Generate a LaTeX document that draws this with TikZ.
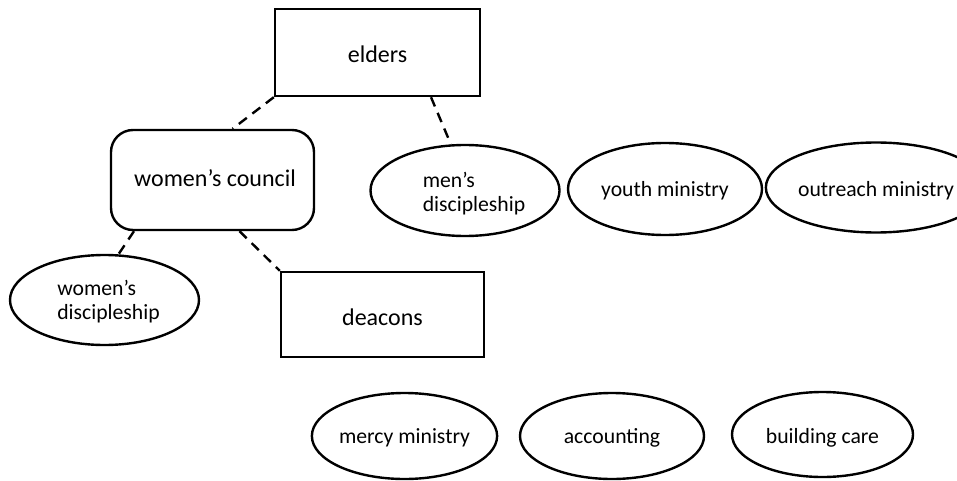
\documentclass[tikz,border=0pt]{standalone}
\usepackage{fontspec}
\setmainfont{Carlito}
\usetikzlibrary{shapes.geometric,calc}
\newcommand{\bline}[2]{\raisebox{-#1pt}[0pt][0pt]{#2}}
\newcommand{\twoline}[3]{\raisebox{#1pt}[0pt][0pt]{\begin{tabular}[t]{@{}l@{}}#2\\#3\end{tabular}}}
\begin{document}
\begin{tikzpicture}[x=1pt,y=-1pt,
  every node/.style={inner sep=0pt},
  box/.style={draw, line width=2.4pt, rectangle, font=\fontsize{24}{28}\selectfont},
  rbox/.style={draw, line width=2.4pt, rectangle, rounded corners=22pt, font=\fontsize{24}{28}\selectfont},
  oval/.style={draw, line width=2.4pt, ellipse, font=\fontsize{21.7}{24}\selectfont},
  link/.style={line width=2.4pt, dash pattern=on 10pt off 7pt}]
\useasboundingbox (0,0) rectangle (957,481);
\clip (0,0) rectangle (957,481);
\fill[white] (0,0) rectangle (957,481);

\node[box, minimum width=205pt, minimum height=87pt] (elders) at (377.5,52.5) {\bline{10.5}{elders}};
\node[rbox, minimum width=203pt, minimum height=100pt] (wc) at (212.5,180) {\hspace*{5pt}\bline{6}{women’s council}};
\node[oval, minimum width=189pt, minimum height=91pt] (men) at (465,190.5)
  {\hspace*{18pt}\twoline{3.5}{men’s}{discipleship}};
\node[oval, minimum width=194pt, minimum height=92pt] (youth) at (665,189) {\bline{8}{youth ministry}};
\node[oval, minimum width=192pt, minimum height=90pt] (outreach) at (876,187.5) {\bline{9}{outreach ministry}};
\node[oval, minimum width=189pt, minimum height=90pt] (wd) at (104.5,300)
  {\hspace*{8pt}\twoline{5}{women’s}{discipleship}};
\node[box, minimum width=203pt, minimum height=85pt] (deacons) at (382.5,314.5) {\bline{10.5}{deacons}};
\node[oval, minimum width=179pt, minimum height=86pt] (mercy) at (404.5,436) {\bline{7}{mercy ministry}};
\node[oval, minimum width=184pt, minimum height=86pt] (accounting) at (612,436) {\bline{7}{accounting}};
\node[oval, minimum width=181pt, minimum height=85pt] (building) at (822.5,434.5) {\bline{8.5}{building care}};

\draw[link] (elders.south west) -- ($(wc.north)+(20,0)$);
\draw[link] ($(elders.south)+(53.5,0)$) -- (men.107);
\draw[link] ($(wc.south)+(-78.5,0)$) -- (wd.73);
\draw[link] ($(wc.south)+(27,0)$) -- (deacons.north west);
\end{tikzpicture}
\end{document}
